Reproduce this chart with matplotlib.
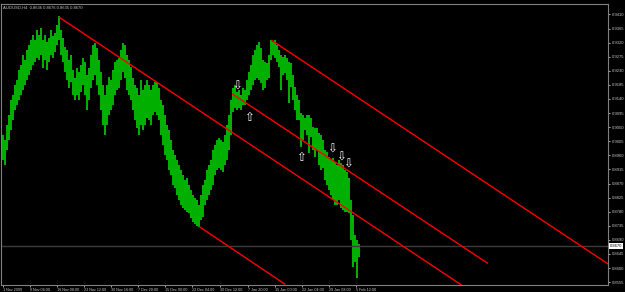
import numpy as np
import matplotlib
matplotlib.use('Agg')
import matplotlib.pyplot as plt

plt.rcParams['font.family'] = ['Liberation Sans', 'DejaVu Sans']

# AUDUSD H4 price bars (bar index = chart column), high / low
BAR_X = list(range(2, 359, 2))
HIGH = [0.9025, 0.9009, 0.9057, 0.9089, 0.9137, 0.9153, 0.9184, 0.9200, 0.9232, 0.9248,
        0.9280, 0.9264, 0.9296, 0.9312, 0.9328, 0.9344, 0.9328, 0.9360, 0.9344, 0.9366,
        0.9328, 0.9344, 0.9322, 0.9334, 0.9360, 0.9341, 0.9350, 0.9376, 0.9405, 0.9360,
        0.9334, 0.9306, 0.9296, 0.9264, 0.9280, 0.9232, 0.9207, 0.9239, 0.9226, 0.9248,
        0.9271, 0.9258, 0.9216, 0.9239, 0.9280, 0.9312, 0.9318, 0.9302, 0.9264, 0.9226,
        0.9184, 0.9153, 0.9184, 0.9210, 0.9200, 0.9232, 0.9258, 0.9264, 0.9271, 0.9296,
        0.9318, 0.9312, 0.9280, 0.9264, 0.9242, 0.9207, 0.9184, 0.9175, 0.9153, 0.9200,
        0.9169, 0.9184, 0.9200, 0.9184, 0.9169, 0.9184, 0.9194, 0.9194, 0.9175, 0.9137,
        0.9121, 0.9089, 0.9057, 0.9041, 0.9009, 0.8977, 0.8961, 0.8945, 0.8929, 0.8913,
        0.8897, 0.8881, 0.8888, 0.8866, 0.8850, 0.8834, 0.8824, 0.8818, 0.8802, 0.8834,
        0.8866, 0.8881, 0.8913, 0.8929, 0.8945, 0.8977, 0.8993, 0.9009, 0.9015, 0.9009,
        0.9003, 0.9025, 0.9057, 0.9089, 0.9137, 0.9175, 0.9184, 0.9162, 0.9169, 0.9153,
        0.9175, 0.9169, 0.9200, 0.9226, 0.9248, 0.9280, 0.9296, 0.9312, 0.9322, 0.9302,
        0.9264, 0.9258, 0.9255, 0.9280, 0.9328, 0.9322, 0.9328, 0.9312, 0.9296, 0.9280,
        0.9274, 0.9280, 0.9271, 0.9258, 0.9255, 0.9216, 0.9178, 0.9153, 0.9137, 0.9095,
        0.9089, 0.9079, 0.9089, 0.9089, 0.9079, 0.9051, 0.9047, 0.9047, 0.9031, 0.9025,
        0.9009, 0.8977, 0.8971, 0.8955, 0.8945, 0.8952, 0.8939, 0.8929, 0.8945, 0.8936,
        0.8929, 0.8913, 0.8907, 0.8888, 0.8818, 0.8770, 0.8706, 0.8690, 0.8676]
LOW = [0.8945, 0.8929, 0.8977, 0.9009, 0.9041, 0.9073, 0.9105, 0.9121, 0.9137, 0.9153,
       0.9169, 0.9184, 0.9200, 0.9216, 0.9232, 0.9248, 0.9258, 0.9271, 0.9264, 0.9280,
       0.9239, 0.9264, 0.9232, 0.9258, 0.9280, 0.9271, 0.9290, 0.9312, 0.9328, 0.9280,
       0.9258, 0.9226, 0.9200, 0.9175, 0.9194, 0.9153, 0.9137, 0.9153, 0.9137, 0.9162,
       0.9184, 0.9153, 0.9105, 0.9137, 0.9175, 0.9200, 0.9216, 0.9184, 0.9153, 0.9105,
       0.9057, 0.9025, 0.9057, 0.9089, 0.9105, 0.9121, 0.9153, 0.9169, 0.9175, 0.9200,
       0.9226, 0.9207, 0.9169, 0.9153, 0.9137, 0.9105, 0.9073, 0.9047, 0.9025, 0.9057,
       0.9041, 0.9057, 0.9079, 0.9073, 0.9057, 0.9089, 0.9098, 0.9089, 0.9073, 0.9025,
       0.8993, 0.8961, 0.8945, 0.8913, 0.8897, 0.8866, 0.8856, 0.8834, 0.8818, 0.8802,
       0.8792, 0.8786, 0.8779, 0.8776, 0.8760, 0.8747, 0.8741, 0.8735, 0.8731, 0.8754,
       0.8763, 0.8802, 0.8818, 0.8834, 0.8850, 0.8866, 0.8897, 0.8913, 0.8920, 0.8913,
       0.8907, 0.8929, 0.8945, 0.8977, 0.9025, 0.9098, 0.9111, 0.9105, 0.9111, 0.9105,
       0.9121, 0.9121, 0.9137, 0.9153, 0.9169, 0.9184, 0.9200, 0.9207, 0.9200, 0.9191,
       0.9169, 0.9175, 0.9200, 0.9207, 0.9264, 0.9280, 0.9271, 0.9258, 0.9242, 0.9169,
       0.9216, 0.9223, 0.9200, 0.9127, 0.9178, 0.9137, 0.9105, 0.9073, 0.9073, 0.8987,
       0.9009, 0.9041, 0.9025, 0.8967, 0.9019, 0.8977, 0.8955, 0.8977, 0.8929, 0.8913,
       0.8920, 0.8881, 0.8866, 0.8850, 0.8834, 0.8818, 0.8802, 0.8802, 0.8818, 0.8792,
       0.8786, 0.8779, 0.8779, 0.8776, 0.8690, 0.8604, 0.8620, 0.8569, 0.8635]

# trendlines: (bar0, price0, bar1, price1)
TRENDLINES = [(58, 0.9401, 461, 0.8546),
              (232, 0.9155, 487, 0.8616),
              (199, 0.8731, 284, 0.8549),
              (271, 0.9327, 608, 0.8613)]

# arrow objects: (bar, price, kind)
ARROWS = [(236, 0.9181, 'down'), (248, 0.9080, 'up'), (300, 0.8954, 'up'),
          (331, 0.8981, 'down'), (340, 0.8953, 'down'), (347, 0.8932, 'down')]

BID = 0.8670
TITLE = 'AUDUSD,H4  0.8636 0.8676 0.8635 0.8670'

PRICE_TICKS = [0.8555, 0.8600, 0.8645, 0.8690, 0.8735, 0.8780, 0.8825, 0.8870, 0.8915, 0.8960,
               0.9005, 0.9050, 0.9095, 0.9140, 0.9185, 0.9230, 0.9275, 0.9320, 0.9365, 0.9410]
DATE_BARS = [2, 29, 56, 83, 110, 137, 164, 191, 219, 247, 274, 301, 328, 355]
DATE_LABELS = ['1 Nov 2009', '9 Nov 04:00', '16 Nov 08:00', '23 Nov 12:00', '30 Nov 16:00',
               '7 Dec 20:00', '15 Dec 00:00', '22 Dec 04:00', '30 Dec 12:00', '7 Jan 20:00',
               '15 Jan 00:00', '22 Jan 04:00', '29 Jan 08:00', '5 Feb 12:00']

fig = plt.figure(figsize=(6.25, 2.92), dpi=100, facecolor='black')
ax = fig.add_axes([0.002, 0.024, 0.971, 0.962], facecolor='black')

ax.vlines(BAR_X, LOW, HIGH, color='#00b400', linewidth=1.4)

ax.axhline(BID, color='#3c3c3c', linewidth=1)

for x0, y0, x1, y1 in TRENDLINES:
    ax.plot([x0, x1], [y0, y1], color='#ff0000', linewidth=1)

for x, y, kind in ARROWS:
    ax.text(x, y, '\u21e9' if kind == 'down' else '\u21e7', color='white',
            fontsize=8.5, ha='center', va='center', family='DejaVu Sans')

ax.set_xlim(0, 608)
ax.set_ylim(0.8546, 0.9443)

ax.yaxis.tick_right()
ax.set_yticks(PRICE_TICKS)
ax.set_yticklabels(['%.4f' % v for v in PRICE_TICKS])
ax.tick_params(axis='y', colors='#c8c8c8', labelsize=3.0, length=1.5, width=0.6, pad=1)
ax.set_xticks(DATE_BARS)
ax.set_xticklabels(DATE_LABELS, ha='left')
ax.tick_params(axis='x', colors='#c8c8c8', labelsize=2.7, length=1.5, width=0.6, pad=0.8)

ax.text(1.003, BID, '%.4f' % BID, transform=ax.get_yaxis_transform(), fontsize=3.0,
        color='black', va='center', ha='left',
        bbox=dict(facecolor='white', edgecolor='none', pad=0.5))

ax.text(2, 0.9432, TITLE, color='#c8c8c8', fontsize=3.0, va='center', ha='left')

for s in ax.spines.values():
    s.set_color('#808080')
    s.set_linewidth(0.8)

fig.savefig('out.png', dpi=100, facecolor='black')
